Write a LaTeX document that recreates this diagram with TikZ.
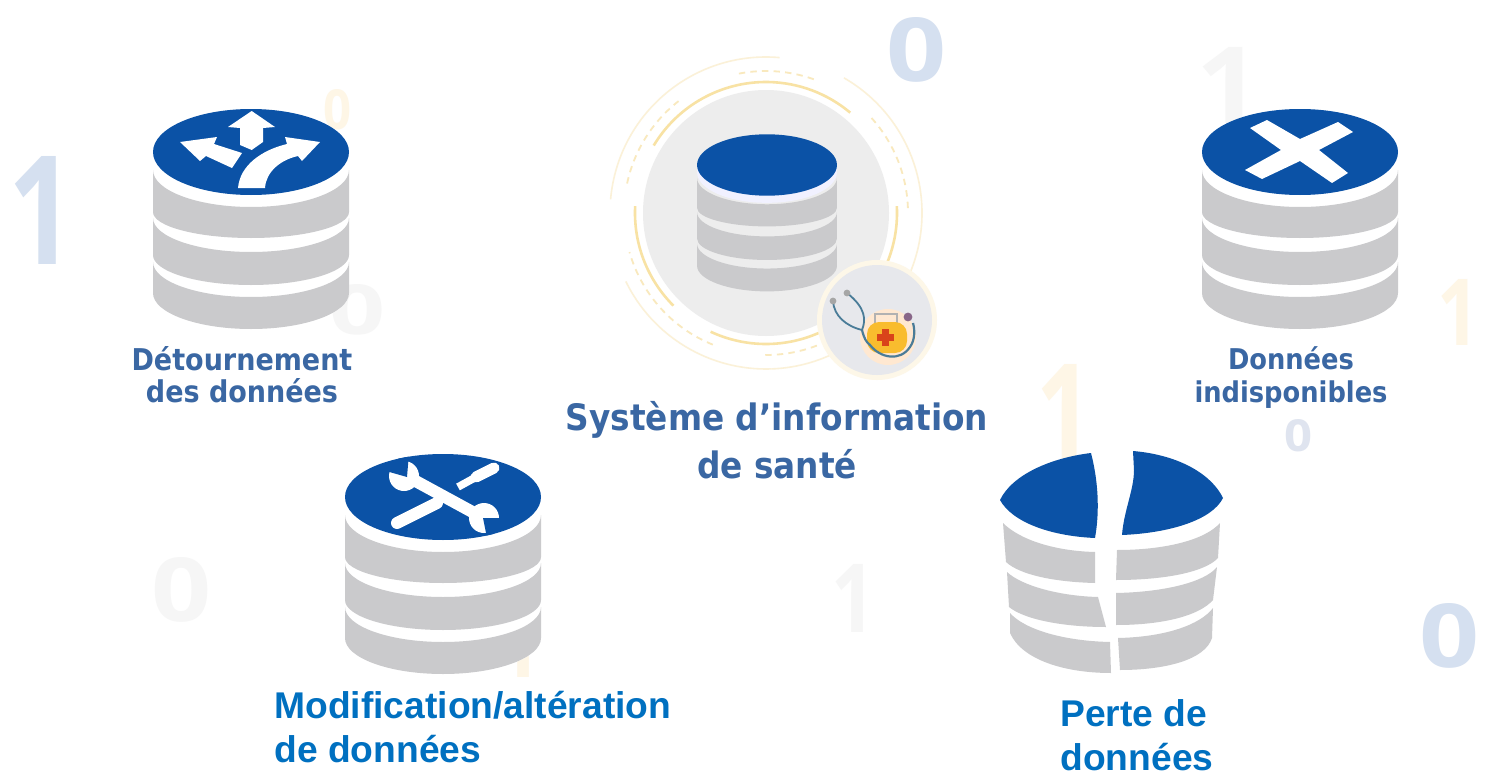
\documentclass[tikz,border=0pt]{standalone}
\usepackage{fontspec}
\setmainfont{Liberation Sans}
\newfontfamily\techfont[FakeStretch=.9]{DejaVu Sans}
\newfontfamily\digfont{Open Sans}
\usepackage{graphicx}
\definecolor{dbblue}{HTML}{0B52A6}
\definecolor{dbgray}{HTML}{CACACC}
\definecolor{techblue}{HTML}{3A67A3}
\definecolor{labblue}{HTML}{0070C0}
\definecolor{discgray}{HTML}{EDEDED}
\definecolor{badgegray}{HTML}{E7E8EC}
\definecolor{ringA}{HTML}{F8E2A4}
\definecolor{ringB}{HTML}{F9E9BE}
\definecolor{ringC}{HTML}{FBF1D8}
\definecolor{digblue}{HTML}{D5E0F0}
\definecolor{digyel}{HTML}{FEF6E6}
\definecolor{diggray}{HTML}{F6F6F6}
\definecolor{digpale}{HTML}{DFE4EF}
\definecolor{steth}{HTML}{4A7C98}
\definecolor{casey}{HTML}{F9BC2E}
\definecolor{crossr}{HTML}{D9441A}
\tikzset{
  blue fill/.style={fill=dbblue},
  gray fill/.style={fill=dbgray},
  digit/.style={inner sep=0pt,font=\digfont\bfseries},
  techlabel/.style={inner sep=0pt,text=techblue,align=center},
  bluelabel/.style={inner sep=0pt,text=labblue,align=left,font=\bfseries\fontsize{18.6}{22.2}\selectfont},
  ringone/.style={draw=ringA,line width=1.3pt},
  ringtwo/.style={draw=ringB,line width=.9pt,dash pattern=on 3.2pt off 2.6pt},
  ringthree/.style={draw=ringC,line width=.8pt},
  icon/.style={fill=white,draw=none},
}
\newcommand{\dblayer}[4]{%
  \fill[gray fill] (-98,#1) -- (-98,#2)
    .. controls (-98,#2+.55*#3) and (-54,#2+#3) .. (0,#2+#3)
    .. controls (54,#2+#3) and (98,#2+.55*#3) .. (98,#2)
    -- (98,#1)
    .. controls (98,#1+.55*#4) and (54,#1+#4) .. (0,#1+#4)
    .. controls (-54,#1+#4) and (-98,#1+.55*#4) .. (-98,#1) -- cycle;}
\newcommand{\dbstack}[1]{%
  \fill[#1] (-98,0) -- (-98,141) .. controls (-98,161) and (-54,177) .. (0,177)
     .. controls (54,177) and (98,161) .. (98,141) -- (98,0)
     .. controls (98,-24) and (54,-43) .. (0,-43) .. controls (-54,-43) and (-98,-24) .. (-98,0) -- cycle;
  \dblayer{18}{60}{26}{37}
  \dblayer{66}{103}{30}{34}
  \dblayer{110}{141}{36}{35}}
\newcommand{\dbtop}{%
  \fill[blue fill] (98,0) .. controls (98,24) and (54,43) .. (0,43)
     .. controls (-54,43) and (-98,24) .. (-98,0)
     .. controls (-98,-24) and (-54,-43) .. (0,-43)
     .. controls (54,-43) and (98,-24) .. (98,0) -- cycle;}
\begin{document}
\begin{tikzpicture}[x=.5pt,y=-.5pt]
\useasboundingbox (0,0) rectangle (1485,776);
\fill[white] (0,0) rectangle (1485,776);
% faint background digits
\node[digit,text=digblue] (d1) at (42,210) {\resizebox{33pt}{54pt}{1}};
\node[digit,text=digblue] (d2) at (916,50) {\resizebox{30pt}{32pt}{0}};
\node[digit,text=diggray] (d3) at (1228,85) {\resizebox{32pt}{38pt}{1}};
\node[digit,text=digyel] (d4) at (1458,312) {\resizebox{21pt}{33pt}{1}};
\node[digit,text=digpale] (d5) at (1298,436) {\resizebox{14pt}{16pt}{0}};
\node[digit,text=digblue] (d6) at (1449,636) {\resizebox{30pt}{32pt}{0}};
\node[digit,text=diggray] (d7) at (182,590) {\resizebox{30pt}{32pt}{0}};
\node[digit,text=diggray] (d8) at (853,598) {\resizebox{22pt}{34pt}{1}};
\node[digit,text=digyel] (d9) at (1064,412) {\resizebox{28pt}{48pt}{1}};
\node[digit,text=digyel] (d10) at (337,110) {\resizebox{14pt}{20pt}{0}};
\node[digit,text=diggray] (d11) at (358,310) {\resizebox{28pt}{25pt}{0}};
\node[digit,text=digyel] (d12) at (520,644) {\resizebox{22pt}{33pt}{1}};
% central disc and rings
\coordinate (ringc) at (766,213);
\fill[discgray] (ringc) circle[radius=61.5pt];
\foreach \a/\b in {149/50,3/-23,-65/-115,-135/-183}
  \draw[ringone] (ringc) ++(\a:65.5pt) arc[start angle=\a,end angle=\b,radius=65.5pt];
\foreach \a/\b in {101/69,168/128,42/0,-69/-92,-112/-164}
  \draw[ringtwo] (ringc) ++(\a:71pt) arc[start angle=\a,end angle=\b,radius=71pt];
\foreach \a/\b in {175/85,60/-25,-30/-88,-88/-154}
  \draw[ringthree] (ringc) ++(\a:78pt) arc[start angle=\a,end angle=\b,radius=78pt];
% central cylinder
\begin{scope}[shift={(767,165)},scale=.714]
  \dbstack{fill=discgray}
  \fill[fill=white!55!blue!12] (-98,10) .. controls (-98,34) and (-54,53) .. (0,53) .. controls (54,53) and (98,34) .. (98,10) -- (98,0) -- (-98,0) -- cycle;
  \dbtop
\end{scope}
% badge
\coordinate (badge) at (877,320);
\fill[ringC!60] (badge) circle[radius=30pt];
\fill[badgegray] (badge) circle[radius=27.5pt];
\fill[orange!18] (888,337) circle[radius=14pt];
\draw[draw=gray!60,line width=1pt] (875,323) -- (875,314) -- (897,314) -- (897,323);
\fill[casey,rounded corners=6pt] (867,322) rectangle (907,353);
\fill[crossr] (882,329) rectangle (889,346);
\fill[crossr] (877,334) rectangle (894,341);
\draw[draw=steth,line width=.9pt] (833,301) .. controls (834,316) and (846,326) .. (862,330)
   .. controls (866,320) and (866,308) .. (847,293);
\draw[draw=steth,line width=1.1pt] (862,330) .. controls (864,338) and (866,342) .. (870,345)
   .. controls (880,358) and (900,362) .. (910,347) .. controls (915,340) and (915,330) .. (913,323);
\fill[gray!70] (833,301) circle[radius=1.7pt];
\fill[gray!70] (847,293) circle[radius=1.7pt];
\fill[black!55!violet!60] (908,317) circle[radius=2.2pt];
% detour cylinder
\begin{scope}[shift={(251,152)}]
  \dbstack{fill=white}
  \dbtop
\end{scope}
\fill[icon] (251.7,111) -- (275,127) -- (263,128) -- (263,142) -- (251.7,150) -- (240,145) -- (240,128) -- (228,127) -- cycle;
\fill[icon] (180,142) -- (217,137) -- (214,144) -- (242,153) -- (232,168) -- (206,156) -- (200,161) -- cycle;
\fill[icon] (320,142) -- (285,137) -- (287,144) .. controls (262,150) and (240,165) .. (238,188) -- (265,188) .. controls (266,172) and (280,160) .. (298,156) -- (302,161) -- cycle;
% tools cylinder
\begin{scope}[shift={(443,497)}]
  \dbstack{fill=white}
  \dbtop
\end{scope}
\draw[white,line width=6pt,line cap=round] (397,523) -- (437,503);
\draw[white,line width=3.8pt] (458,487) -- (478,476);
\draw[white,line width=5.5pt,line cap=round] (476,477) -- (494,468);
\draw[white,line width=6pt] (410,478) -- (478,515);
\fill[white] (404,476) circle[radius=7.5pt];
\fill[white] (484,518) circle[radius=7.5pt];
\begin{scope}
  \clip (541,497) .. controls (541,521) and (497,540) .. (443,540)
     .. controls (389,540) and (345,521) .. (345,497)
     .. controls (345,473) and (389,454) .. (443,454)
     .. controls (497,454) and (541,473) .. (541,497) -- cycle;
  \fill[dbblue] (407,477) -- (379,469) -- (409,453) -- cycle;
  \fill[dbblue] (483,518) -- (517,518) -- (487,538) -- cycle;
\end{scope}
% X cylinder
\begin{scope}[shift={(1300,152)}]
  \dbstack{fill=white}
  \dbtop
\end{scope}
\fill[icon] (1250,128) -- (1267,120) -- (1300,139) -- (1338,122) -- (1353,132) -- (1319,150) -- (1348,173) -- (1332,183) -- (1300,161) -- (1262,179) -- (1245,170) -- (1281,150) -- cycle;
% broken cylinder
\fill[blue fill] (1000,500) .. controls (1012,475) and (1050,458) .. (1091,453) .. controls (1098,480) and (1100,510) .. (1095,538) .. controls (1050,536) and (1012,522) .. (1000,500) -- cycle;
\fill[blue fill] (1133,451) .. controls (1180,455) and (1212,475) .. (1223,498) .. controls (1212,520) and (1170,533) .. (1122,535) .. controls (1124,510) and (1134,490) .. (1134,470) -- cycle;
\fill[gray fill] (1003,523) .. controls (1020,540) and (1055,551) .. (1095,552) -- (1095,583) .. controls (1055,582) and (1020,575) .. (1006,562) -- cycle;
\fill[gray fill] (1007,572) .. controls (1022,586) and (1060,596) .. (1098,597) -- (1106,627) .. controls (1065,627) and (1025,620) .. (1009,607) -- cycle;
\fill[gray fill] (1010,613) .. controls (1025,630) and (1065,641) .. (1110,642) -- (1111,673) .. controls (1065,673) and (1022,660) .. (1010,633) -- cycle;
\fill[gray fill] (1220,523) .. controls (1205,540) and (1165,550) .. (1117,550) -- (1116,580) .. controls (1165,580) and (1205,572) .. (1218,558) -- cycle;
\fill[gray fill] (1217,567) .. controls (1205,582) and (1165,592) .. (1116,593) -- (1116,625) .. controls (1165,625) and (1200,615) .. (1213,600) -- cycle;
\fill[gray fill] (1213,608) .. controls (1200,625) and (1165,637) .. (1118,638) -- (1120,670) .. controls (1165,670) and (1205,660) .. (1212,638) -- cycle;
% labels
\node[techlabel,font=\techfont\bfseries\fontsize{15}{16}\selectfont] (detour) at (242,375) {Détournement\\des données};
\node[techlabel,font=\techfont\bfseries\fontsize{18.2}{24}\selectfont] (si) at (777,440) {Système d’information\\de santé};
\node[techlabel,font=\techfont\bfseries\fontsize{14.3}{16.5}\selectfont] (indisp) at (1291,378) {Données\\indisponibles};
\node[bluelabel,anchor=west] (modif) at (274,727) {Modification/altération\\de données};
\node[bluelabel,anchor=west] (perte) at (1060,735) {Perte de\\données};
\end{tikzpicture}
\end{document}
